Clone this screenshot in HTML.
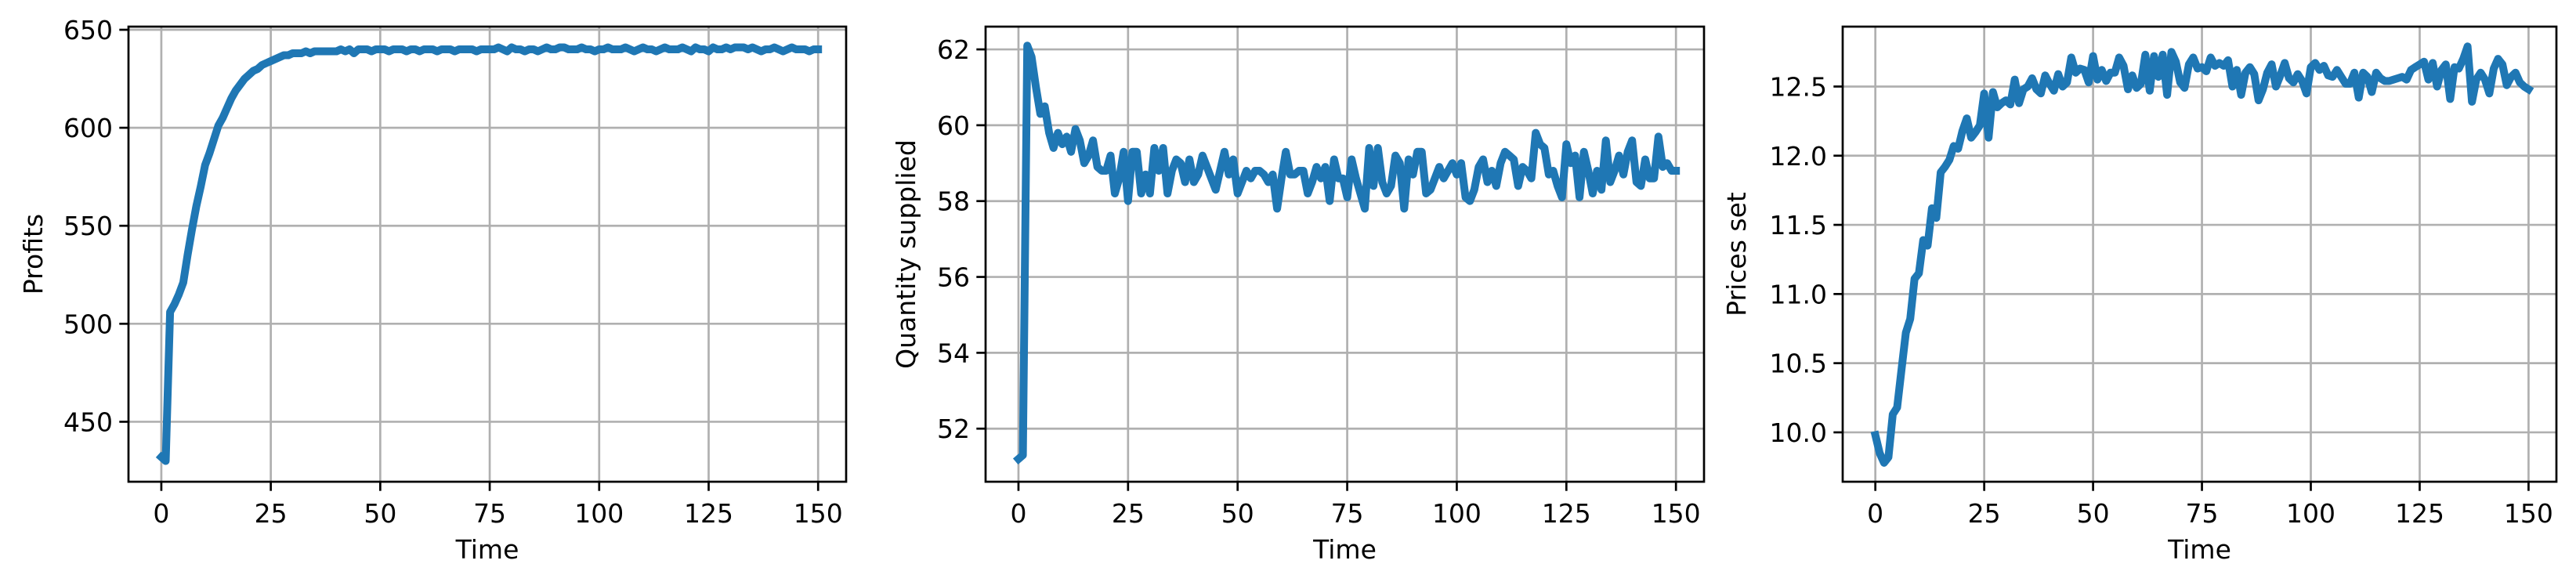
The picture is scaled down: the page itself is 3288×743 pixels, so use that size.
<!DOCTYPE html>
<html><head><meta charset="utf-8"><style>
html,body{margin:0;padding:0;background:#fff;}
svg{display:block;font-family:"DejaVu Sans","Liberation Sans",sans-serif;}
</style></head><body>
<svg id="fig" width="3288" height="743" viewBox="0 0 3288 743" xmlns="http://www.w3.org/2000/svg"></svg>
<script>
const timeMax = 150;
const xTicks = [0,25,50,75,100,125,150];
const profits = [432,430,506,510,515,521,535,548,560,570,
581,587,594,601,605,610,615,619,622,625,
627,629,630,632,633,634,635,636,637,637,
638,638,638,639,638,639,639,639,639,639,
639,640,639,640,638,640,640,640,639,640,
640,640,639,640,640,640,639,640,640,639,
640,640,640,639,640,640,640,639,640,640,
640,640,639,640,640,640,640,641,640,639,
641,640,640,639,640,640,639,640,641,640,
640,641,641,640,640,640,641,640,640,639,
640,640,641,640,640,640,641,640,639,640,
641,640,640,639,640,641,640,640,640,641,
640,639,641,640,640,639,641,640,640,641,
640,641,641,641,640,641,640,639,640,640,
641,640,639,640,641,640,640,640,639,640,
640];
const quantity = [51.2,51.3,62.1,61.8,61.0,60.3,60.5,59.8,59.4,59.8,59.5,59.7,59.3,59.9,59.6,59.0,59.2,59.6,58.9,58.8,58.8,59.2,58.2,58.6,59.3,58.0,59.3,59.3,58.2,58.7,58.2,59.4,58.8,59.4,58.2,58.8,59.1,59.0,58.5,59.1,58.5,58.7,59.2,58.9,58.6,58.3,58.8,59.3,58.7,59.1,58.2,58.5,58.8,58.6,58.8,58.8,58.7,58.5,58.7,57.8,58.6,59.3,58.7,58.7,58.8,58.8,58.2,58.5,58.9,58.6,58.9,58.0,59.1,58.6,58.6,58.1,59.1,58.6,58.2,57.8,59.4,58.4,59.4,58.5,58.2,58.4,59.2,59.0,57.8,59.1,58.7,59.3,59.3,58.2,58.3,58.6,58.9,58.6,58.8,59.0,58.7,59.0,58.1,58.0,58.3,58.9,59.1,58.5,58.8,58.4,59.0,59.3,59.2,59.1,58.4,58.9,58.8,58.6,59.8,59.5,59.4,58.7,58.8,58.4,58.1,59.5,59.0,59.2,58.1,59.3,58.8,58.2,58.8,58.3,59.6,58.5,58.8,59.2,58.7,59.3,59.6,58.5,58.4,59.1,58.6,58.6,59.7,58.9,59.0,58.8,58.8];
const prices = [9.98,9.85,9.78,9.82,10.13,10.18,10.45,10.72,10.82,11.11,11.15,11.39,11.35,11.62,11.55,11.88,11.92,11.97,12.07,12.05,12.18,12.27,12.13,12.17,12.22,12.45,12.13,12.46,12.35,12.38,12.40,12.37,12.55,12.38,12.48,12.50,12.56,12.48,12.45,12.58,12.52,12.47,12.59,12.50,12.53,12.71,12.60,12.63,12.62,12.53,12.72,12.55,12.62,12.54,12.60,12.60,12.71,12.65,12.48,12.58,12.49,12.52,12.73,12.47,12.72,12.57,12.73,12.44,12.75,12.68,12.53,12.49,12.66,12.71,12.63,12.64,12.61,12.71,12.65,12.67,12.65,12.69,12.50,12.62,12.44,12.60,12.64,12.59,12.40,12.48,12.60,12.66,12.50,12.58,12.67,12.56,12.53,12.59,12.54,12.45,12.64,12.67,12.62,12.65,12.58,12.57,12.62,12.57,12.52,12.52,12.60,12.42,12.60,12.57,12.46,12.60,12.56,12.54,12.54,12.55,12.56,12.57,12.55,12.62,12.64,12.66,12.68,12.55,12.67,12.50,12.62,12.66,12.41,12.64,12.63,12.70,12.79,12.39,12.55,12.60,12.55,12.45,12.63,12.70,12.66,12.51,12.57,12.60,12.53,12.50,12.48];
const profitTicks = [450,500,550,600,650];
const quantityTicks = [52,54,56,58,60,62];
const priceTicks = [10.0,10.5,11.0,11.5,12.0,12.5];

const NS = "http://www.w3.org/2000/svg";
const fig = document.getElementById('fig');
function mk(tag, attrs, parent){const e=document.createElementNS(NS,tag);for(const k in attrs)e.setAttribute(k,attrs[k]);(parent||fig).appendChild(e);return e;}

const panels = [
 {name:'profits', L:164, R:1080, T:34, B:615, ymin:419.4, ymax:651.6, data:profits, ticks:profitTicks, dec:0, label:'Profits', labelX:42},
 {name:'quantity', L:1258, R:2175, T:34, B:615, ymin:50.6, ymax:62.6, data:quantity, ticks:quantityTicks, dec:0, label:'Quantity supplied', labelX:1156},
 {name:'prices', L:2352, R:3263, T:34, B:615, ymin:9.643, ymax:12.933, data:prices, ticks:priceTicks, dec:1, label:'Prices set', labelX:2216}
];
const xmin=-7.5, xmax=156.4;

panels.forEach(p=>{
  const g = mk('g',{});
  
  
  const sx = v => p.L + (v-xmin)/(xmax-xmin)*(p.R-p.L);
  const sy = v => p.B - (v-p.ymin)/(p.ymax-p.ymin)*(p.B-p.T);
  xTicks.forEach(t=>{
    const l = mk('line',{x1:sx(t),x2:sx(t),y1:p.T,y2:p.B,stroke:'#b0b0b0','stroke-width':2.7},g);
    
    
  });
  p.ticks.forEach(t=>{
    const l = mk('line',{x1:p.L,x2:p.R,y1:sy(t),y2:sy(t),stroke:'#b0b0b0','stroke-width':2.7},g);
    
    
  });
  const pts = p.data.map((v,i)=>sx(i).toFixed(1)+','+sy(v).toFixed(1)).join(' ');
  const pl = mk('polyline',{points:pts,fill:'none',stroke:'#1f77b4','stroke-width':10,'stroke-linejoin':'round','stroke-linecap':'square'},g);
  
  
  const fr = mk('rect',{x:p.L,y:p.T,width:p.R-p.L,height:p.B-p.T,fill:'none',stroke:'#000','stroke-width':2.7},g);
  
  
  xTicks.forEach(t=>{
    mk('line',{x1:sx(t),x2:sx(t),y1:p.B,y2:p.B+11.7,stroke:'#000','stroke-width':2.7},g);
    const tx = mk('text',{x:sx(t),y:667,'font-size':33,'text-anchor':'middle',fill:'#000'},g);
    tx.textContent = t;
    
    
  });
  p.ticks.forEach(t=>{
    mk('line',{x1:p.L-11.7,x2:p.L,y1:sy(t),y2:sy(t),stroke:'#000','stroke-width':2.7},g);
    const tx = mk('text',{x:p.L-20,y:sy(t)+12,'font-size':33,'text-anchor':'end',fill:'#000'},g);
    tx.textContent = t.toFixed(p.dec);
    
    
  });
  const xl = mk('text',{x:(p.L+p.R)/2,y:713,'font-size':33,'text-anchor':'middle',fill:'#000'},g);
  xl.textContent='Time';
  
  
  const yc=(p.T+p.B)/2;
  const yl = mk('text',{x:p.labelX+12,y:yc,'font-size':33,'text-anchor':'middle',fill:'#000',transform:`rotate(-90 ${p.labelX+12} ${yc})`},g);
  yl.textContent=p.label;
  
  
});
</script>
</body></html>
